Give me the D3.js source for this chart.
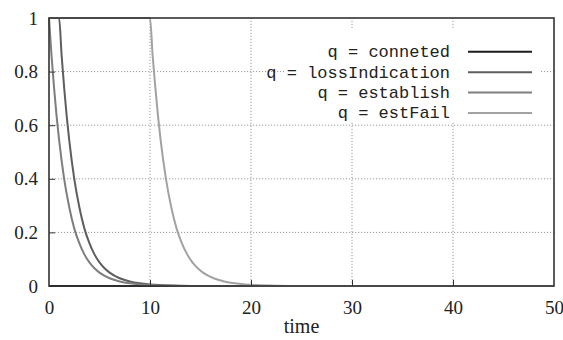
<!DOCTYPE html>
<html>
<head>
<meta charset="utf-8">
<script src="https://cdn.jsdelivr.net/npm/d3@7"></script>
<style>
  body { margin: 0; background: white; }
  svg text { fill: #222; }
  .serif { font-family: "Liberation Serif", "DejaVu Serif", "Times New Roman", serif; }
</style>
</head>
<body>
<div id="grafica"></div>
<script>
// datos
const seriesNames = ["q = conneted", "q = lossIndication", "q = establish", "q = estFail"];
const seriesColors = ["#1c1c1c", "#5e5e5e", "#7e7e7e", "#a2a2a2"];

const connetedT = [0, 50];
const connetedY = [0, 0];

const lossT = [0, 1, 1.25, 1.5, 1.75, 2, 2.5, 3, 3.5, 4, 4.5, 5, 5.5, 6, 7, 8, 9, 10, 11, 13, 15, 50];
const lossY = [1, 1, 0.86, 0.74, 0.635, 0.545, 0.4, 0.295, 0.215, 0.16, 0.118, 0.088, 0.066, 0.05, 0.029, 0.017, 0.01, 0.006, 0.0035, 0.001, 0, 0];

const establishT = [0, 0.25, 0.5, 0.75, 1, 1.5, 2, 2.5, 3, 3.5, 4, 4.5, 5, 6, 7, 8, 9, 10, 12, 14, 50];
const establishY = [1, 0.86, 0.74, 0.635, 0.545, 0.4, 0.295, 0.215, 0.16, 0.118, 0.088, 0.066, 0.05, 0.029, 0.017, 0.01, 0.006, 0.0035, 0.001, 0, 0];

const estFailT = [0, 10, 10.26, 10.53, 10.79, 11.05, 11.58, 12.1, 12.63, 13.15, 13.68, 14.2, 14.73, 15.25, 16.3, 17.35, 18.4, 19.45, 20.5, 22.6, 24.7, 50];
const estFailY = [1, 1, 0.86, 0.74, 0.635, 0.545, 0.4, 0.295, 0.215, 0.16, 0.118, 0.088, 0.066, 0.05, 0.029, 0.017, 0.01, 0.006, 0.0035, 0.001, 0, 0];

const xTicks = [0, 10, 20, 30, 40, 50];
const yTicks = [0, 0.2, 0.4, 0.6, 0.8, 1];
const yTickLabels = ["0", "0.2", "0.4", "0.6", "0.8", "1"];
const xTitle = "time";

const W = 563, H = 340;
const mono = "'Liberation Mono', 'DejaVu Sans Mono', monospace";

const svg = d3.select("#grafica").append("svg")
  .attr("width", W).attr("height", H);

const x = d3.scaleLinear().domain([0, 50]).range([49, 554]);
const y = d3.scaleLinear().domain([0, 1]).range([286, 18]);

// grid punteado
const grid = svg.append("g");
grid.selectAll(".gy").data(yTicks.filter(d => d > 0 && d < 1)).enter()
  .append("line")
  .attr("x1", x(0)).attr("x2", x(50))
  .attr("y1", d => y(d)).attr("y2", d => y(d))
  .attr("stroke", "#9a9a9a").attr("stroke-width", 1)
  .attr("stroke-dasharray", "1.2,1.8");
grid.selectAll(".gx").data(xTicks.filter(d => d > 0 && d < 50)).enter()
  .append("line")
  .attr("x1", d => x(d)).attr("x2", d => x(d))
  .attr("y1", y(0)).attr("y2", y(1))
  .attr("stroke", "#9a9a9a").attr("stroke-width", 1)
  .attr("stroke-dasharray", "1.2,1.8");

// curvas
const datos = [
  connetedT.map((t, i) => [t, connetedY[i]]),
  lossT.map((t, i) => [t, lossY[i]]),
  establishT.map((t, i) => [t, establishY[i]]),
  estFailT.map((t, i) => [t, estFailY[i]])
];
const linea = d3.line()
  .x(d => x(d[0])).y(d => y(d[1]))
  .curve(d3.curveMonotoneX);

svg.append("g").selectAll("path").data(datos).enter()
  .append("path")
  .attr("d", linea)
  .attr("fill", "none")
  .attr("stroke", (d, i) => seriesColors[i])
  .attr("stroke-width", 2);

// caja de la leyenda
svg.append("rect")
  .attr("x", 284).attr("y", 29).attr("width", 256).attr("height", 93)
  .attr("fill", "white");

const leyenda = svg.append("g");
const filaY = d3.scalePoint().domain(seriesNames).range([51.7, 113]);
leyenda.selectAll("text").data(seriesNames).enter()
  .append("text")
  .attr("x", 450).attr("y", d => filaY(d))
  .attr("dy", "0.32em")
  .attr("text-anchor", "end")
  .style("font-family", mono).style("font-size", "17px")
  .text(d => d);
leyenda.selectAll("line").data(seriesNames).enter()
  .append("line")
  .attr("x1", 468).attr("x2", 532)
  .attr("y1", d => filaY(d)).attr("y2", d => filaY(d))
  .attr("stroke", (d, i) => seriesColors[i]).attr("stroke-width", 2);

// ejes
const ejeX = svg.append("g").attr("transform", "translate(0," + y(0) + ")")
  .call(d3.axisBottom(x).tickValues(xTicks).tickFormat(d3.format("d"))
    .tickSizeInner(-6).tickSizeOuter(0).tickPadding(15));
const ejeY = svg.append("g").attr("transform", "translate(" + x(0) + ",0)")
  .call(d3.axisLeft(y).tickValues(yTicks).tickFormat((d, i) => yTickLabels[i])
    .tickSizeInner(-6).tickSizeOuter(0).tickPadding(11));
[ejeX, ejeY].forEach(eje => {
  eje.attr("font-family", null).attr("font-size", null);
  eje.select(".domain").remove();
  eje.selectAll("line").attr("stroke", "#333").attr("stroke-width", 1);
  eje.selectAll("text")
    .attr("class", "serif").style("font-size", "19px").attr("fill", "#222");
});
ejeX.selectAll("line").filter(d => d === 0 || d === 50).remove();
ejeY.selectAll("line").filter(d => d === 0 || d === 1).remove();

// borde
svg.append("rect")
  .attr("x", x(0)).attr("y", y(1))
  .attr("width", x(50) - x(0)).attr("height", y(0) - y(1))
  .attr("fill", "none").attr("stroke", "#333").attr("stroke-width", 1.6);

svg.append("text")
  .attr("class", "serif")
  .attr("x", (x(0) + x(50)) / 2).attr("y", 333)
  .attr("text-anchor", "middle")
  .style("font-size", "20px")
  .text(xTitle);
</script>
</body>
</html>
